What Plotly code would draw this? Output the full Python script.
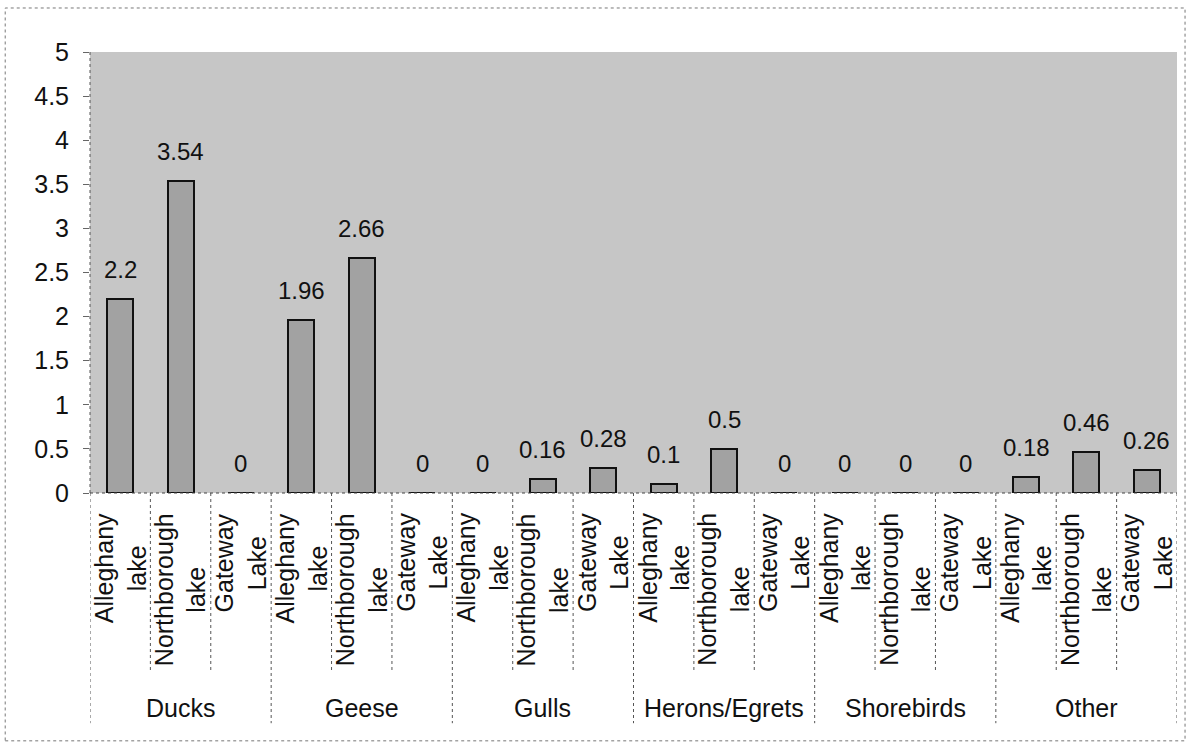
import plotly.graph_objects as go

groups = ["Ducks", "Geese", "Gulls", "Herons/Egrets", "Shorebirds", "Other"]
lakes = ["Alleghany<br>lake", "Northborough<br>lake", "Gateway<br>Lake"]
values = [2.2, 3.54, 0,
          1.96, 2.66, 0,
          0, 0.16, 0.28,
          0.1, 0.5, 0,
          0, 0, 0,
          0.18, 0.46, 0.26]
value_labels = ["2.2", "3.54", "0", "1.96", "2.66", "0", "0", "0.16", "0.28",
                "0.1", "0.5", "0", "0", "0", "0", "0.18", "0.46", "0.26"]
y_ticks = [0, 0.5, 1, 1.5, 2, 2.5, 3, 3.5, 4, 4.5, 5]
y_tick_text = ["0", "0.5", "1", "1.5", "2", "2.5", "3", "3.5", "4", "4.5", "5"]

n = len(values)
xpos = list(range(n))
tick_text = [lakes[i % 3] for i in range(n)]

FONT = "Liberation Sans, Arial, sans-serif"
INK = "#111111"

fig = go.Figure()
fig.add_trace(go.Bar(
    x=xpos, y=values, width=0.43,
    marker=dict(color="#a2a2a2", line=dict(color="#111111", width=2)),
    hoverinfo="skip",
))

shapes = []
for i in range(n + 1):
    b = i - 0.5
    is_group = (i % 3 == 0)
    shapes.append(dict(type="line", xref="x", yref="paper", x0=b, x1=b,
                       y0=0, y1=-0.522 if is_group else -0.406,
                       line=dict(color="#555555", width=1, dash="dot")))
shapes.append(dict(type="rect", xref="paper", yref="paper",
                   x0=-0.078, x1=1.0074, y0=-0.562, y1=1.0998,
                   line=dict(color="#777777", width=1, dash="dot")))
shapes.append(dict(type="line", xref="paper", yref="paper", x0=0, x1=0, y0=0, y1=1,
                   line=dict(color="#555555", width=1, dash="dot")))
shapes.append(dict(type="line", xref="paper", yref="paper", x0=0, x1=1, y0=0, y1=0,
                   line=dict(color="#444444", width=1, dash="dot")))

annotations = []
# value labels above bars
for xi, v, lab in zip(xpos, values, value_labels):
    annotations.append(dict(x=xi, y=v, xref="x", yref="y", text=lab,
                            showarrow=False, yanchor="bottom", xanchor="center",
                            yshift=14,
                            font=dict(size=24, color=INK, family=FONT)))
# inner category labels (rotated, lines centred)
for xi, lab in zip(xpos, tick_text):
    annotations.append(dict(x=xi, y=-0.041, xref="x", yref="paper", text=lab,
                            showarrow=False, textangle=-90, align="center",
                            xanchor="center", yanchor="top",
                            font=dict(size=25, color=INK, family=FONT)))
# group labels
for g, name in enumerate(groups):
    annotations.append(dict(x=g * 3 + 1, y=-0.487, xref="x", yref="paper",
                            text=name, showarrow=False,
                            font=dict(size=25, color=INK, family=FONT),
                            yanchor="middle", xanchor="center"))

fig.update_layout(
    width=1191, height=747,
    margin=dict(l=90, r=14, t=52, b=254),
    paper_bgcolor="white",
    plot_bgcolor="#c6c6c6",
    showlegend=False,
    bargap=0,
    shapes=shapes,
    annotations=annotations,
    font=dict(family=FONT, color=INK),
    xaxis=dict(
        range=[-0.5, n - 0.5],
        tickmode="array", tickvals=xpos, ticktext=tick_text,
        showticklabels=False, showgrid=False, zeroline=False,
        showline=False, ticks="",
    ),
    yaxis=dict(
        range=[0, 5], tickmode="array", tickvals=y_ticks, ticktext=y_tick_text,
        showgrid=False, zeroline=False, showline=False,
        ticks="outside", ticklen=6, tickcolor="#666666",
        ticklabelstandoff=9,
        tickfont=dict(size=25, family=FONT, color=INK),
    ),
)

fig.write_html("out.html")
